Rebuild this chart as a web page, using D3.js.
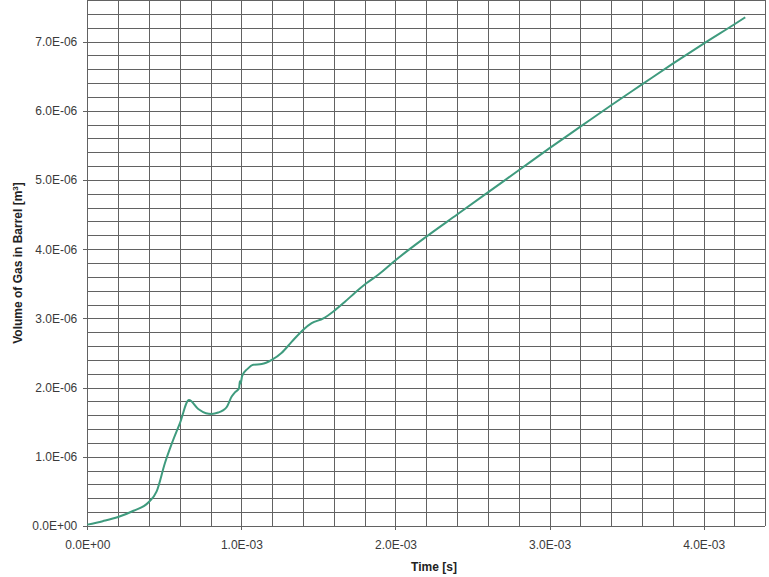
<!DOCTYPE html>
<html lang="en">
<head>
<meta charset="UTF-8">
<title>Volume of Gas in Barrel</title>
<style>
  * { box-sizing: border-box; margin: 0; padding: 0; }
  body { background: #fff; width: 769px; height: 577px; overflow: hidden; }
  svg { display: block; font-family: "Liberation Sans", Arial, sans-serif; }
  .grid line { stroke: #626262; stroke-width: 1px; shape-rendering: crispEdges; }
  .grid path { display: none; }
  .axis path { display: none; }
  .axis line { stroke: #626262; shape-rendering: crispEdges; }
  .axis text { font-size: 12px; fill: #3a3a3a; }
  .title { font-size: 12px; font-weight: bold; fill: #222; }
  .curve { fill: none; stroke: #3f9b7e; stroke-width: 2px; stroke-linejoin: round; }
</style>
</head>
<body>
<svg id="svg" width="769" height="577"></svg>
<script src="https://d3js.org/d3.v7.min.js"></script>
<script>
// time [s]
const timeS = [
  0, 0.1e-3, 0.2e-3, 0.3e-3, 0.396e-3, 0.45e-3, 0.504e-3, 0.55e-3, 0.60e-3, 0.66e-3,
  0.72e-3, 0.77e-3, 0.807e-3, 0.85e-3, 0.88e-3, 0.905e-3, 0.937e-3, 0.958e-3, 0.985e-3, 0.99e-3,
  0.995e-3, 1.005e-3, 1.04e-3, 1.077e-3, 1.132e-3, 1.197e-3, 1.26e-3, 1.326e-3, 1.398e-3, 1.456e-3,
  1.532e-3, 1.597e-3, 1.672e-3, 1.737e-3, 1.813e-3, 1.888e-3, 2.0e-3, 2.2e-3, 2.4e-3, 2.6e-3,
  2.8e-3, 3.0e-3, 3.2e-3, 3.4e-3, 3.6e-3, 3.8e-3, 4.0e-3, 4.2e-3, 4.27e-3
];
// volume of gas in barrel [m^3]
const volumeM3 = [
  0.02e-6, 0.07e-6, 0.13e-6, 0.22e-6, 0.34e-6, 0.50e-6, 0.91e-6, 1.20e-6, 1.48e-6, 1.82e-6,
  1.69e-6, 1.63e-6, 1.62e-6, 1.64e-6, 1.67e-6, 1.72e-6, 1.87e-6, 1.93e-6, 1.99e-6, 2.09e-6,
  2.06e-6, 2.17e-6, 2.27e-6, 2.33e-6, 2.34e-6, 2.40e-6, 2.50e-6, 2.66e-6, 2.83e-6, 2.93e-6,
  3.00e-6, 3.10e-6, 3.24e-6, 3.37e-6, 3.51e-6, 3.63e-6, 3.84e-6, 4.18e-6, 4.50e-6, 4.82e-6,
  5.14e-6, 5.46e-6, 5.77e-6, 6.08e-6, 6.38e-6, 6.68e-6, 6.97e-6, 7.25e-6, 7.35e-6
];

const xTicks = [0, 1e-3, 2e-3, 3e-3, 4e-3];
const yTicks = [0, 1e-6, 2e-6, 3e-6, 4e-6, 5e-6, 6e-6, 7e-6];
const xGrid = d3.range(0, 23).map(i => i * 0.2e-3);
const yGrid = d3.range(0, 39).map(i => i * 0.2e-6);

const plotL = 87.3, plotR = 765.3, plotT = 0, plotB = 526;

const svg = d3.select('#svg');
const x = d3.scaleLinear().domain([0, 4.4e-3]).range([plotL, plotR]);
const y = d3.scaleLinear().domain([0, 7.6e-6]).range([plotB, plotT]);

// "1.0E-03" style labels
const sci = v => {
  const [m, e] = v.toExponential(1).split('e');
  const n = Math.abs(+e);
  return m + 'E' + (+e < 0 ? '-' : '+') + (n < 10 ? '0' : '') + n;
};

// grid
svg.append('g').attr('class', 'grid')
  .attr('transform', `translate(0,${plotB})`)
  .call(d3.axisBottom(x).tickValues(xGrid).tickSize(-(plotB - plotT)).tickFormat(''));
svg.append('g').attr('class', 'grid')
  .attr('transform', `translate(${plotL},0)`)
  .call(d3.axisLeft(y).tickValues(yGrid).tickSize(-(plotR - plotL)).tickFormat(''));

// axes
svg.append('g').attr('class', 'axis')
  .attr('transform', `translate(0,${plotB})`)
  .call(d3.axisBottom(x).tickValues(xTicks).tickSize(4).tickPadding(10).tickFormat(sci));
svg.append('g').attr('class', 'axis')
  .attr('transform', `translate(${plotL},0)`)
  .call(d3.axisLeft(y).tickValues(yTicks).tickSize(4).tickPadding(6).tickFormat(sci));

// curve
const pts = timeS.map((t, i) => [t, volumeM3[i]]);
svg.append('path').attr('class', 'curve')
  .attr('d', d3.line().x(d => x(d[0])).y(d => y(d[1])).curve(d3.curveMonotoneX)(pts));

// titles
svg.append('text').attr('class', 'title')
  .attr('x', 434).attr('y', 571).attr('text-anchor', 'middle').text('Time [s]');

const yt = svg.append('text').attr('class', 'title')
  .attr('transform', `translate(22,${(plotT + plotB) / 2}) rotate(-90)`)
  .attr('text-anchor', 'middle');
yt.append('tspan').text('Volume of Gas in Barrel [m');
yt.append('tspan').attr('dy', -4).attr('font-size', '8px').text('3');
yt.append('tspan').attr('dy', 4).text(']');
</script>
</body>
</html>
